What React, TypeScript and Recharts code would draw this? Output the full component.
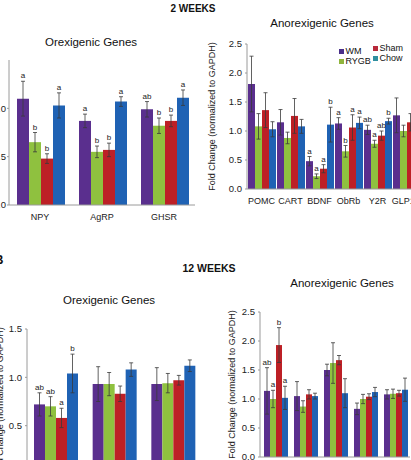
import React from 'react';
import { BarChart, Bar, XAxis, YAxis, ErrorBar, LabelList } from 'recharts';

const FONT = '"Liberation Sans", Arial, sans-serif';
const COLORS = { wm: '#5a2f8e', rygb: '#8fc13f', sham: '#bd2026', chow: '#1f62b4' };
const SERIES = ['wm', 'rygb', 'sham', 'chow'];
const SERIES_NAMES = ['WM', 'RYGB', 'Sham', 'Chow'];

// ---- 2 weeks, orexigenic ----
const catsA = ['NPY', 'AgRP', 'GHSR'];
const wmA = [1.1, 0.87, 0.99];
const wmErrA = [0.18, 0.07, 0.08];
const wmLetA = ['a', 'a', 'ab'];
const rygbA = [0.65, 0.55, 0.82];
const rygbErrA = [0.1, 0.06, 0.08];
const rygbLetA = ['b', 'b', 'b'];
const shamA = [0.48, 0.57, 0.87];
const shamErrA = [0.05, 0.07, 0.06];
const shamLetA = ['b', 'b', 'b'];
const chowA = [1.03, 1.07, 1.11];
const chowErrA = [0.13, 0.05, 0.08];
const chowLetA = ['a', 'a', 'a'];
const ticksA = [0, 0.5, 1.0];

// ---- 2 weeks, anorexigenic ----
const catsB = ['POMC', 'CART', 'BDNF', 'ObRb', 'Y2R', 'GLP1R'];
const wmB = [1.81, 1.15, 0.48, 1.13, 1.02, 1.27];
const wmErrB = [0.48, 0.22, 0.08, 0.1, 0.08, 0.3];
const wmLetB = ['', '', 'a', 'a', 'ab', ''];
const rygbB = [1.08, 0.88, 0.22, 0.65, 0.78, 1.0];
const rygbErrB = [0.22, 0.1, 0.04, 0.1, 0.06, 0.1];
const rygbLetB = ['', '', 'a', 'b', 'a', ''];
const shamB = [1.36, 1.26, 0.35, 1.06, 0.92, 1.15];
const shamErrB = [0.3, 0.3, 0.07, 0.22, 0.08, 0.15];
const shamLetB = ['', '', 'a', 'a', 'ab', ''];
const chowB = [1.03, 1.08, 1.11, 1.14, 1.17, 1.2];
const chowErrB = [0.13, 0.12, 0.3, 0.1, 0.05, 0.1];
const chowLetB = ['', '', 'b', 'a', 'b', ''];
const ticksB = [0, 0.5, 1.0, 1.5, 2.0, 2.5];

// ---- 12 weeks, orexigenic ----
const catsC = ['NPY', 'AgRP', 'GHSR'];
const wmC = [0.72, 0.93, 0.93];
const wmErrC = [0.12, 0.18, 0.17];
const wmLetC = ['ab', '', ''];
const rygbC = [0.7, 0.93, 0.94];
const rygbErrC = [0.1, 0.12, 0.1];
const rygbLetC = ['ab', '', ''];
const shamC = [0.58, 0.83, 0.97];
const shamErrC = [0.1, 0.08, 0.05];
const shamLetC = ['a', '', ''];
const chowC = [1.04, 1.08, 1.12];
const chowErrC = [0.2, 0.07, 0.06];
const chowLetC = ['b', '', ''];
const ticksC = [0, 0.5, 1.0, 1.5];

// ---- 12 weeks, anorexigenic ----
const catsD = ['POMC', 'CART', 'BDNF', 'ObRb', 'Y2R'];
const wmD = [1.14, 1.05, 1.5, 0.83, 1.08];
const wmErrD = [0.4, 0.25, 0.1, 0.1, 0.08];
const wmLetD = ['ab', '', '', '', ''];
const rygbD = [1.0, 0.87, 1.62, 1.0, 1.09];
const rygbErrD = [0.15, 0.1, 0.35, 0.08, 0.08];
const rygbLetD = ['a', '', '', '', ''];
const shamD = [1.93, 1.08, 1.67, 1.04, 1.1];
const shamErrD = [0.3, 0.08, 0.08, 0.05, 0.05];
const shamLetD = ['b', '', '', '', ''];
const chowD = [1.02, 1.05, 1.1, 1.12, 1.16];
const chowErrD = [0.2, 0.05, 0.25, 0.08, 0.2];
const chowLetD = ['a', '', '', '', ''];
const ticksD = [0, 0.5, 1.0, 1.5, 2.0, 2.5];

type Row = Record<string, any>;

function buildRows(cats: string[], vals: number[][], errs: number[][], lets: string[][]): Row[] {
  return cats.map((c, i) => {
    const r: Row = { cat: c };
    SERIES.forEach((s, k) => {
      r[s] = vals[k][i];
      r[s + 'E'] = errs[k][i];
      r[s + 'L'] = lets[k][i];
    });
    return r;
  });
}

const rowsA = buildRows(catsA, [wmA, rygbA, shamA, chowA], [wmErrA, rygbErrA, shamErrA, chowErrA], [wmLetA, rygbLetA, shamLetA, chowLetA]);
const rowsB = buildRows(catsB, [wmB, rygbB, shamB, chowB], [wmErrB, rygbErrB, shamErrB, chowErrB], [wmLetB, rygbLetB, shamLetB, chowLetB]);
const rowsC = buildRows(catsC, [wmC, rygbC, shamC, chowC], [wmErrC, rygbErrC, shamErrC, chowErrC], [wmLetC, rygbLetC, shamLetC, chowLetC]);
const rowsD = buildRows(catsD, [wmD, rygbD, shamD, chowD], [wmErrD, rygbErrD, shamErrD, chowErrD], [wmLetD, rygbLetD, shamLetD, chowLetD]);

const letterRenderer = (rows: Row[], key: string) => (props: any) => {
  const vb = props.viewBox || {};
  const x = props.x ?? vb.x;
  const y = props.y ?? vb.y;
  const w = props.width ?? vb.width;
  const h = Math.abs(props.height ?? vb.height);
  const idx = props.index;
  const label = props.value;
  if (!label || idx == null) return null;
  const row = rows[idx];
  const v = row[key];
  const e = row[key + 'E'];
  const pxPerUnit = v ? h / v : 0;
  return (
    <text x={x + w / 2} y={y - e * pxPerUnit - 3} textAnchor="middle" fontSize={8} fill="#222" fontFamily={FONT}>
      {label}
    </text>
  );
};

interface PanelProps {
  left: number; top: number; width: number; height: number;
  margin: { top: number; right: number; bottom: number; left: number };
  yWidth: number; domain: [number, number]; ticks: number[]; rows: Row[];
  catGap: number; xHeight: number; yLabel?: string; yLabelOffset?: number;
  tickFont: number; catFont: number; tickMargin?: number;
}

function Panel(p: PanelProps) {
  return (
    <div style={{ position: 'absolute', left: p.left, top: p.top }}>
      <BarChart width={p.width} height={p.height} data={p.rows} margin={p.margin} barCategoryGap={p.catGap} barGap={0}>
        <XAxis
          dataKey="cat"
          height={p.xHeight}
          tickLine={false}
          axisLine={{ stroke: '#9a9a9a' }}
          interval={0}
          tick={{ fontSize: p.catFont, fill: '#222', fontFamily: FONT }}
          tickMargin={3}
        />
        <YAxis
          width={p.yWidth}
          domain={p.domain}
          ticks={p.ticks}
          tickLine={{ stroke: '#9a9a9a' }}
          tickSize={2}
          axisLine={{ stroke: '#9a9a9a' }}
          tickFormatter={(v: number) => v.toFixed(1)}
          tick={{ fontSize: p.tickFont, fill: '#222', fontFamily: FONT }}
          tickMargin={p.tickMargin ?? 3}
          label={p.yLabel ? { value: p.yLabel, angle: -90, position: 'insideLeft', offset: p.yLabelOffset ?? 5, style: { textAnchor: 'middle', fontSize: 9, fill: '#222', fontFamily: FONT } } : undefined}
        />
        {SERIES.map((s) => (
          <Bar key={s} dataKey={s} fill={COLORS[s as keyof typeof COLORS]} isAnimationActive={false}>
            <ErrorBar dataKey={s + 'E'} width={2} strokeWidth={0.8} stroke="#3a3a3a" direction="y" />
            <LabelList dataKey={s + 'L'} content={letterRenderer(p.rows, s)} />
          </Bar>
        ))}
      </BarChart>
    </div>
  );
}

function Title({ x, y, text, size = 11.5, bold = false }: { x: number; y: number; text: string; size?: number; bold?: boolean }) {
  return (
    <div style={{ position: 'absolute', left: x, top: y, transform: 'translate(-50%, -50%)', whiteSpace: 'nowrap', fontSize: size, fontWeight: bold ? 700 : 400, color: '#111', fontFamily: FONT }}>
      {text}
    </div>
  );
}

const LEGEND_COLORS = ['#4a2f8a', '#8fb43c', '#b8293a', '#2f8f9f'];

function LegendBox() {
  const pos = [
    { x: 339, y: 46 },
    { x: 339, y: 56 },
    { x: 373, y: 43 },
    { x: 373, y: 53 },
  ];
  return (
    <>
      {SERIES_NAMES.map((n, i) => (
        <div key={n} style={{ position: 'absolute', left: pos[i].x, top: pos[i].y, display: 'flex', alignItems: 'center', fontSize: 9, fontFamily: FONT, color: '#111', lineHeight: '10px' }}>
          <span style={{ display: 'inline-block', width: 5, height: 5, background: LEGEND_COLORS[i], marginRight: 1.5 }} />
          {n}
        </div>
      ))}
    </>
  );
}

export default function App() {
  return (
    <div style={{ position: 'fixed', left: 0, top: 0, width: 411, height: 460, overflow: 'hidden', background: '#fff', fontFamily: FONT }}>
      <Title x={193} y={8} text="2 WEEKS" size={10} bold />
      <Title x={91} y={42} text="Orexigenic Genes" />
      <Title x={322} y={23} text="Anorexigenic Genes" />
      <Panel
        left={-40} top={20} width={240} height={210}
        margin={{ top: 40, right: 5, bottom: 0, left: 0 }}
        yWidth={49} domain={[0, 1.5]} ticks={ticksA} rows={rowsA}
        catGap={8} xHeight={25} tickFont={9.5} catFont={9} tickMargin={1}
      />
      <Panel
        left={200} top={24} width={240} height={190}
        margin={{ top: 20, right: 19, bottom: 0, left: 0 }}
        yWidth={47} domain={[0, 2.5]} ticks={ticksB} rows={rowsB}
        catGap={1} xHeight={25} tickFont={9.5} catFont={9}
        yLabel="Fold Change (normalized to GAPDH)" yLabelOffset={12}
      />
      <LegendBox />

      <Title x={-1} y={260} text="B" size={12} bold />
      <Title x={209} y={268} text="12 WEEKS" size={10.5} bold />
      <Title x={109} y={300} text="Orexigenic Genes" />
      <Title x={342} y={283} text="Anorexigenic Genes" />
      <Panel
        left={-20} top={300} width={240} height={200}
        margin={{ top: 29, right: 17, bottom: 0, left: 0 }}
        yWidth={47} domain={[0, 1.5]} ticks={ticksC} rows={rowsC}
        catGap={7} xHeight={26} tickFont={9.5} catFont={9}
        yLabel="Fold Change (normalized to GAPDH)" yLabelOffset={20}
      />
      <Panel
        left={210} top={290} width={230} height={192}
        margin={{ top: 22, right: 30, bottom: 0, left: 0 }}
        yWidth={50} domain={[0, 2.5]} ticks={ticksD} rows={rowsD}
        catGap={4} xHeight={25} tickFont={9.5} catFont={9}
        yLabel="Fold Change (normalized to GAPDH)" yLabelOffset={22}
      />
    </div>
  );
}
